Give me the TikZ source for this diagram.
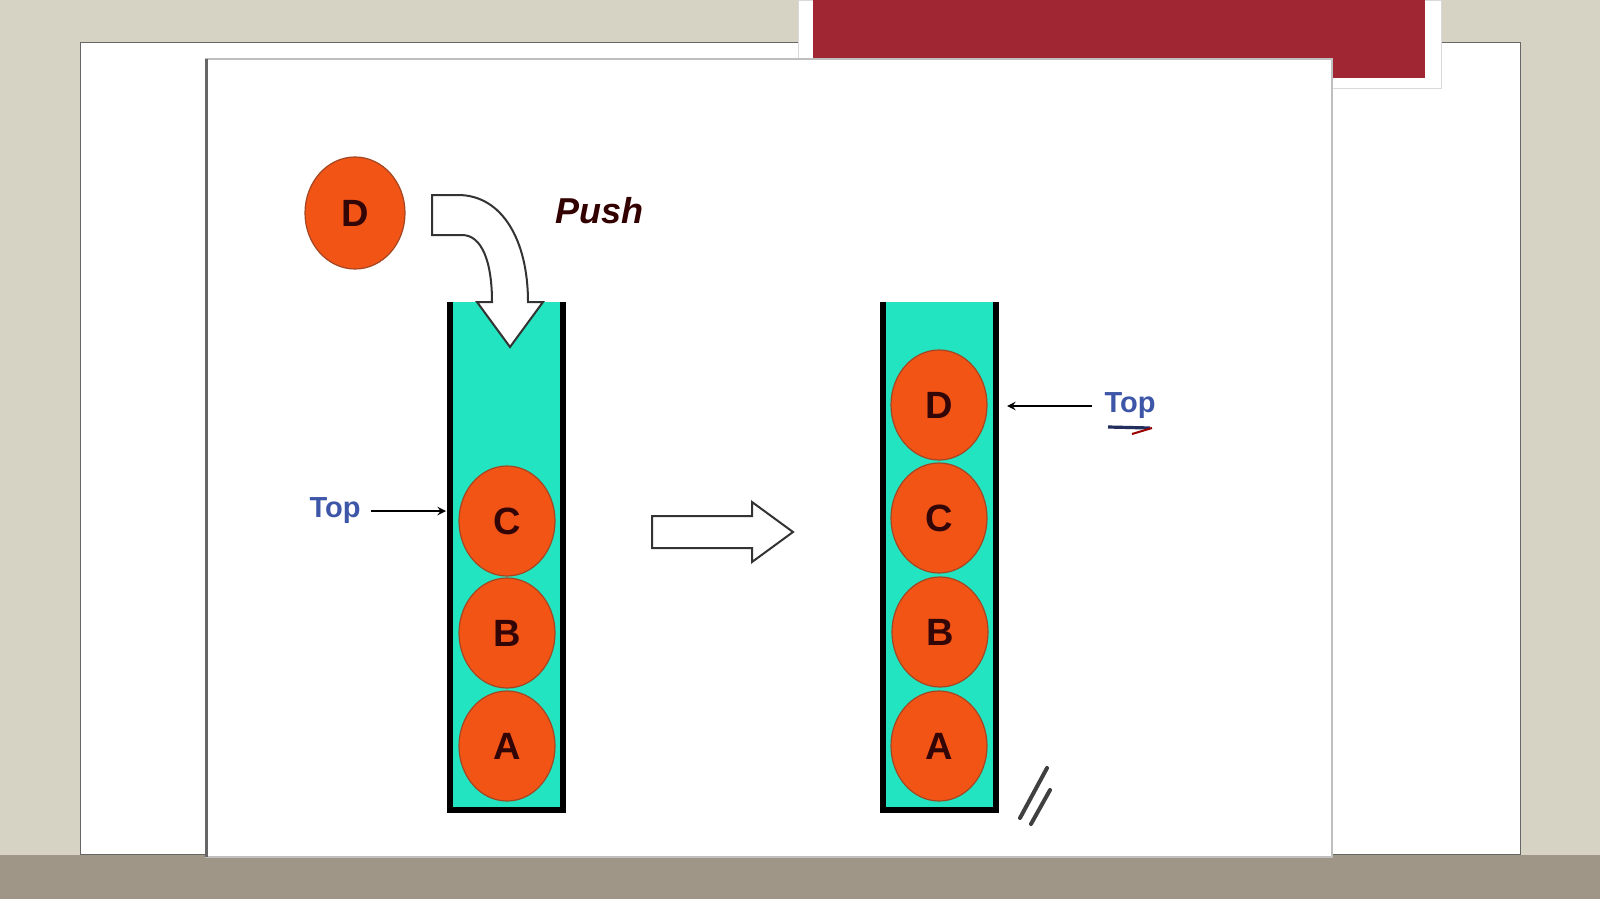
\documentclass[tikz,border=0pt]{standalone}
\usepackage{fontspec}
\setmainfont{Liberation Sans}
\usetikzlibrary{positioning}
\usetikzlibrary{arrows,shapes}
\usetikzlibrary{shapes.geometric}
\definecolor{ballfill}{RGB}{242,84,22}
\definecolor{balledge}{RGB}{165,70,35}
\definecolor{stackfill}{RGB}{34,228,192}
\definecolor{topblue}{RGB}{62,86,168}
\definecolor{slidered}{RGB}{160,38,52}
\definecolor{bgbeige}{RGB}{214,210,196}
\definecolor{bgbrown}{RGB}{160,150,136}
\definecolor{lettercol}{RGB}{50,6,6}
\tikzstyle{ball}=[ellipse,fill=ballfill,draw=balledge,line width=0.6pt,minimum width=48pt,minimum height=55pt,inner sep=0pt,font=\fontsize{19}{19}\selectfont\bfseries,text=lettercol]
\tikzstyle{toplabel}=[font=\fontsize{14.5}{14.5}\selectfont\bfseries,text=topblue,inner sep=1pt]
\tikzstyle{pointer}=[draw,line width=0.9pt,-stealth]
\tikzstyle{wall}=[draw=black,line width=2.6pt]
\tikzstyle{blockarrow}=[draw=black!80,fill=white,line width=1pt,line join=miter]

\begin{document}
\begin{tikzpicture}[x=0.5pt,y=-0.5pt]
    \useasboundingbox (0,0) rectangle (1600,899);
    % slide background
    \fill[bgbeige] (0,0) rectangle (1600,899);
    \fill[bgbrown] (0,855) rectangle (1600,899);
    \fill[white,draw=black!60,line width=0.5pt] (80,43) rectangle (1520,854);
    \fill[white,draw=black!15] (798,0) rectangle (1441,88);
    \fill[slidered] (813,0) rectangle (1425,78);
    \fill[white,draw=black!25,line width=0.8pt] (206,59) rectangle (1332,857);
    \draw[black!60,line width=1.5pt] (206,59) -- (206,857);

    % the two stacks
    \foreach \x in {450,883}
    {
        \fill[stackfill] (\x,302) rectangle ({\x+113},810);
        \draw[wall] (\x,302) -- (\x,810) -- ({\x+113},810) -- ({\x+113},302);
    }

    \foreach \pos/\name/\label in {{(507,521)/LC/C}, {(507,633)/LB/B}, {(507,746)/LA/A}, {(939,405)/RD/D}, {(939,518)/RC/C}, {(940,632)/RB/B}, {(939,746)/RA/A}}
        \node[ball] (\name) at \pos {\label};

    \node[ball,minimum width=50pt,minimum height=56pt] (D) at (355,213) {D};
    \node[font=\fontsize{18}{18}\selectfont\bfseries\itshape,text=black!80!red] (push) at (599,211) {Push};

    % push arrow
    \path[blockarrow] (432,195) -- (458,195) .. controls (502,195) and (528,240) .. (528,302)
        -- (543,302) -- (510,347) -- (477,302) -- (492,302)
        .. controls (492,262) and (482,235) .. (462,235) -- (432,235) -- cycle;
    \path[blockarrow] (652,516) -- (752,516) -- (752,502) -- (793,532) -- (752,562) -- (752,548) -- (652,548) -- cycle;

    % top pointers
    \node[toplabel] (topL) at (335,511) {Top};
    \coordinate (tipL) at (446,511);
    \path[pointer,shorten <=4pt] (topL) -- (tipL);
    \node[toplabel] (topR) at (1130,406) {Top};
    \coordinate (tipR) at (1007,406);
    \path[pointer,shorten <=5pt] (topR) -- (tipR);
    \draw[topblue!55!black,line width=1.6pt] (1108,427) -- (1150,428);
    \draw[red!60!black,line width=1pt] (1132,434) -- (1152,428);

    \draw[black!75,line width=2pt,line cap=round] (1020,818) -- (1047,768);
    \draw[black!75,line width=2pt,line cap=round] (1031,824) -- (1050,790);
\end{tikzpicture}
\end{document}
